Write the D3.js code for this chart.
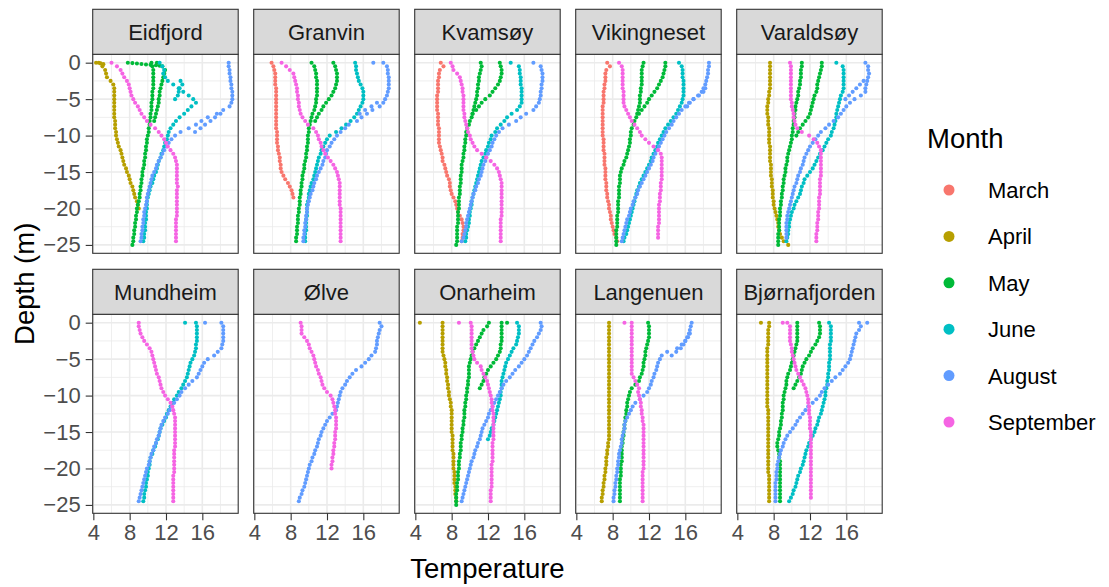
<!DOCTYPE html>
<html>
<head>
<meta charset="utf-8">
<script src="https://cdn.jsdelivr.net/npm/d3@7"></script>
<style>
  html, body { margin: 0; padding: 0; background: #ffffff; }
  svg { display: block; font-family: "Liberation Sans", Arial, sans-serif; }
</style>
</head>
<body>
<svg id="chart" width="1109" height="587"></svg>
<script>
// Temperature profiles per site. Each profile: [month, top depth (m), depth step (m), temperatures (°C)]
const sites = ["Eidfjord", "Granvin", "Kvamsøy", "Vikingneset", "Varaldsøy",
               "Mundheim", "Ølve", "Onarheim", "Langenuen", "Bjørnafjorden"];
const months = ["March", "April", "May", "June", "August", "September"];
const tempTicks = [4, 8, 12, 16];
const tempMinor = [6, 10, 14, 18];
const depthTicks = [0, -5, -10, -15, -20, -25];
const depthMinor = [-2.5, -7.5, -12.5, -17.5, -22.5];

const eidfjord = [
  ["April", 0, 0.5, [4.6,5.0,5.3,5.4,5.5,5.9,6.2,6.3,6.3,6.3,6.3,6.3,6.3,6.3,6.3,6.3,6.4,6.4,6.4,6.5,6.5,6.6,6.7,6.8,7.0,7.1,7.2,7.3,7.4,7.6,7.7,7.9,8.0,8.1,8.3,8.4,8.5,8.6,8.8,8.9,9.0]],
  ["April", 0, 0.1, [4.3,4.8,5.1]],
  ["May", 0, 0.06, [7.8,8.3,8.8,9.3,9.8,10.3,10.9,11.3]],
  ["May", 0, 0.5, [10.4,10.5,10.6,10.6,10.6,10.6,10.6,10.6,10.5,10.5,10.5,10.4,10.4,10.4,10.3,10.3,10.2,10.2,10.1,10.1,10.0,9.9,9.9,9.8,9.8,9.7,9.7,9.6,9.6,9.5,9.4,9.4,9.3,9.3,9.2,9.2,9.1,9.1,9.0,8.9,8.8,8.8,8.7,8.7,8.6,8.6,8.5,8.5,8.4,8.4,8.3]],
  ["May", 0, 0.5, [11.0,11.6,11.9,11.8,11.7,11.6,11.5,11.4,11.3,11.3,11.2,11.2,11.1,11.0,10.9,10.8,10.7]],
  ["June", 0, 0.5, [11.3,11.6,11.8,11.7,11.9,12.2,12.8,13.4,13.9,14.5,15.0,15.3,14.8,14.4,14.0,13.5,13.1,12.8,12.5,12.3,12.2,12.1,11.9,11.8,11.7,11.5,11.4,11.2,11.1,11.0,10.9,10.7,10.6,10.5,10.3,10.2,10.1,10.0,9.9,9.9,9.9,9.8,9.8,9.8,9.7,9.7,9.7,9.6,9.6,9.5]],
  ["June", 2.5, 0.5, [13.6,13.8,13.5,13.4,13.3,13.0]],
  ["August", 0, 0.5, [18.9,18.9,19.0,19.0,19.1,19.1,19.2,19.2,19.3,19.3,19.3,19.2,19.0,18.3,17.6,16.6,15.9,15.3,14.5,13.6,13.0,12.6,12.3,12.1,11.8,11.6,11.4,11.2,11.0,10.9,10.7,10.5,10.4,10.3,10.2,10.1,10.0,9.9,9.9,9.8,9.7,9.6,9.6,9.5,9.5,9.4,9.4,9.3,9.3,9.2]],
  ["August", 7, 0.5, [18.0,17.4,16.9,16.3,15.8,15.2]],
  ["September", 0, 0.5, [6.0,6.6,7.0,7.2,7.4,7.7,7.9,8.0,8.1,8.2,8.4,8.6,8.9,9.1,9.3,9.6,9.9,10.3,10.8,11.2,11.5,11.8,12.0,12.2,12.5,12.8,13.0,13.1,13.2,13.2,13.2,13.2,13.2,13.2,13.3,13.2,13.2,13.2,13.2,13.2,13.2,13.2,13.2,13.1,13.1,13.1,13.1,13.1,13.1,13.1]]
];

const granvin = [
  ["March", 0, 0.5, [5.9,6.1,6.2,6.3,6.3,6.3,6.3,6.4,6.4,6.4,6.4,6.4,6.4,6.4,6.4,6.4,6.4,6.4,6.4,6.5,6.5,6.5,6.5,6.6,6.6,6.7,6.8,6.8,6.9,6.9,7.0,7.2,7.4,7.7,7.9,8.1,8.2,8.3]],
  ["May", 0, 0.5, [10.3,10.6,10.7,10.8,10.8,10.9,10.9,10.9,10.9,10.9,10.8,10.8,10.7,10.6,10.4,10.3,10.2,10.1,10.0,10.0,9.9,9.9,9.9,9.8,9.8,9.7,9.7,9.6,9.5,9.5,9.4,9.3,9.3,9.2,9.2,9.1,9.1,9.0,9.0,9.0,8.9,8.9,8.8,8.8,8.8,8.7,8.7,8.7,8.6,8.6]],
  ["May", 0, 0.5, [12.7,12.9,13.0,13.1,13.1,13.1,13.0,12.9,12.7,12.5,12.2,11.9,11.6,11.4,11.1,10.9,10.7]],
  ["June", 0, 0.5, [15.1,15.2,15.2,15.3,15.4,15.5,15.7,15.9,16.0,16.0,16.0,15.9,15.7,15.5,15.3,15.0,14.6,14.1,13.6,13.0,12.3,12.0,11.8,11.6,11.4,11.3,11.1,11.0,10.9,10.8,10.7,10.6,10.5,10.3,10.2,10.1,10.0,10.0,9.9,9.8,9.8,9.8,9.8,9.7,9.7,9.7,9.7,9.6,9.6,9.6]],
  ["August", 0, 0.5, [18.2,18.6,18.7,18.7,18.8,18.8,18.8,18.8,18.7,18.6,18.4,18.2,17.8,17.0,16.4,15.8,15.3,14.4,14.0,13.5,13.1,12.8,12.5,12.3,12.0,11.9,11.8,11.6,11.5,11.3,11.1,10.9,10.8,10.6,10.5,10.4,10.2,10.1,10.0,9.9,9.8,9.8,9.7,9.7,9.6,9.6,9.5,9.5,9.4,9.4]],
  ["August", 0, 0.1, [17.1]],
  ["August", 5.5, 0.5, [17.5,16.9,16.2,15.6]],
  ["September", 0, 0.5, [7.0,7.5,7.9,8.3,8.4,8.5,8.6,8.7,8.7,8.8,8.8,8.9,8.9,9.0,9.1,9.3,9.6,9.9,10.5,10.8,11.0,11.1,11.3,11.4,11.6,11.8,12.1,12.4,12.7,12.9,13.1,13.2,13.3,13.4,13.4,13.4,13.4,13.4,13.4,13.4,13.5,13.5,13.5,13.5,13.5,13.5,13.5,13.5,13.5,13.5]]
];

const kvamsoy = [
  ["March", 0, 0.5, [6.8,7.1,6.7,6.6,6.6,6.5,6.5,6.5,6.5,6.4,6.4,6.4,6.4,6.4,6.5,6.5,6.5,6.5,6.6,6.6,6.6,6.6,6.6,6.7,6.8,6.9,7.0,7.0,7.2,7.3,7.4,7.5,7.7,7.8,7.8,7.9,8.0,8.2,8.4,8.5,8.6,8.7,8.9,9.1,9.2,9.3,9.3,9.2,9.2,9.1]],
  ["May", 0, 0.5, [11.2,11.3,11.2,11.1,11.0,11.0,10.9,10.9,10.8,10.8,10.7,10.6,10.5,10.4,10.3,10.2,10.0,9.9,9.7,9.6,9.6,9.5,9.5,9.4,9.4,9.3,9.3,9.2,9.1,9.1,9.1,9.0,9.0,9.0,8.9,8.9,8.9,8.8,8.8,8.8,8.8,8.7,8.7,8.7,8.7,8.6,8.6,8.6,8.6,8.6,8.5]],
  ["May", 0, 0.5, [13.3,13.4,13.5,13.5,13.4,13.3,13.1,12.8,12.5,12.2,11.7,11.3,11.0,10.7,10.3]],
  ["June", 0, 0.5, [14.5,15.4,15.5,15.5,15.6,15.6,15.6,15.7,15.7,15.7,15.7,15.7,15.5,15.2,14.6,14.1,13.8,13.4,13.0,12.8,12.4,12.3,12.1,12.0,11.8,11.7,11.5,11.3,11.2,11.1,11.0,10.9,10.8,10.7,10.6,10.5,10.4,10.3,10.2,10.2,10.1,10.0,10.0,9.9,9.9,9.8,9.7,9.6,9.6,9.5]],
  ["August", 0, 0.5, [17.0,17.8,17.9,18.0,18.0,18.0,17.9,17.9,17.8,17.8,17.7,17.6,17.3,17.0,16.2,15.6,15.1,14.3,13.6,13.2,12.9,12.7,12.5,12.4,12.2,12.0,11.8,11.7,11.5,11.4,11.3,11.2,11.0,10.9,10.7,10.6,10.4,10.3,10.2,10.1,10.0,9.9,9.8,9.7,9.6,9.6,9.5,9.4,9.3,9.1]],
  ["September", 0, 0.5, [7.9,8.1,8.2,8.6,8.9,9.0,9.1,9.2,9.2,9.3,9.3,9.3,9.3,9.3,9.4,9.4,9.5,9.6,9.7,9.8,10.0,10.1,10.3,10.5,10.8,11.3,11.8,12.3,12.7,13.0,13.2,13.3,13.4,13.5,13.5,13.5,13.5,13.5,13.5,13.5,13.5,13.5,13.5,13.4,13.4,13.4,13.4,13.4,13.4,13.4]]
];

const vikingneset = [
  ["March", 0, 0.5, [7.4,7.7,7.3,7.2,7.2,7.2,7.1,7.1,7.0,7.0,7.0,7.0,6.9,6.9,6.9,6.9,6.9,6.9,6.9,6.9,6.9,7.0,7.0,7.0,7.0,7.1,7.1,7.1,7.1,7.2,7.2,7.2,7.2,7.3,7.3,7.3,7.4,7.4,7.5,7.6,7.6,7.7,7.8,7.8,7.9,8.0,8.1,8.2,8.4,8.5]],
  ["May", 0, 0.5, [11.4,11.3,11.2,11.2,11.2,11.2,11.2,11.1,11.1,11.0,11.0,11.0,10.9,10.8,10.7,10.6,10.4,10.3,10.1,10.0,10.0,9.9,9.9,9.8,9.7,9.6,9.5,9.3,9.2,9.0,8.9,8.8,8.8,8.8,8.7,8.7,8.7,8.7,8.6,8.6,8.6,8.6,8.5,8.5,8.5,8.5,8.4,8.4,8.4,8.4,8.4]],
  ["May", 0, 0.5, [13.8,13.8,13.7,13.6,13.5,13.3,13.1,12.9,12.6,12.3,12.0,11.8,11.5,11.2,10.9]],
  ["June", 0, 0.5, [15.3,15.6,15.7,15.7,15.7,15.8,15.8,15.8,15.8,15.8,15.7,15.6,15.4,15.2,15.0,14.7,14.4,14.1,13.8,13.6,13.4,13.2,13.0,12.9,12.7,12.5,12.3,12.2,12.0,11.8,11.6,11.4,11.2,11.0,10.9,10.7,10.6,10.5,10.4,10.3,10.2,10.1,10.0,9.9,9.8,9.7,9.6,9.5,9.3,9.2]],
  ["August", 0, 0.5, [18.6,18.6,18.5,18.5,18.4,18.3,18.2,18.0,17.8,17.5,16.9,16.4,16.0,15.6,15.3,15.0,14.7,14.5,14.2,13.9,13.7,13.5,13.3,13.1,12.9,12.7,12.5,12.4,12.2,12.0,11.8,11.6,11.4,11.2,11.0,10.8,10.7,10.5,10.3,10.2,10.0,9.9,9.8,9.6,9.5,9.4,9.3,9.2,9.1,9.0]],
  ["August", 3.5, 0.5, [18.2,18.0,17.4,16.9,16.5,16.2]],
  ["September", 0, 0.5, [8.7,9.0,9.1,9.1,9.1,9.1,9.1,9.1,9.2,9.2,9.2,9.2,9.3,9.5,9.7,9.9,10.1,10.4,10.7,11.0,11.2,11.6,12.0,12.5,13.0,13.3,13.4,13.4,13.4,13.4,13.4,13.4,13.4,13.3,13.3,13.3,13.2,13.2,13.2,13.1,13.1,13.1,13.1,13.1,13.1,13.0,13.0,13.0,13.0]]
];

const varaldsoy = [
  ["April", 0, 0.5, [7.6,7.6,7.6,7.6,7.6,7.6,7.6,7.6,7.5,7.5,7.4,7.4,7.3,7.3,7.3,7.4,7.4,7.4,7.5,7.5,7.5,7.5,7.5,7.6,7.6,7.6,7.6,7.6,7.7,7.7,7.7,7.7,7.8,7.8,7.8,7.9,7.9,7.9,8.0,8.0,8.1,8.2,8.3,8.4,8.5,8.5,8.6,8.7,8.9,9.1,9.6]],
  ["May", 0, 0.5, [11.1,11.1,11.0,11.0,11.0,10.9,10.9,10.8,10.7,10.7,10.6,10.5,10.4,10.4,10.3,10.3,10.2,10.2,10.1,10.1,10.0,10.0,9.9,9.8,9.7,9.6,9.5,9.5,9.4,9.3,9.3,9.2,9.1,9.1,9.0,9.0,8.9,8.9,8.8,8.8,8.7,8.7,8.7,8.6,8.6,8.6,8.6,8.5,8.5,8.5,8.5]],
  ["May", 0, 0.5, [13.3,13.3,13.2,13.1,13.0,12.9,12.8,12.8,12.7,12.5,12.4,12.3,12.2,12.1,12.0,11.8,11.5,11.2,10.9,10.7,10.5]],
  ["June", 0, 0.5, [14.9,15.6,15.7,15.7,15.7,15.7,15.7,15.7,15.6,15.4,15.3,15.2,15.1,15.0,14.9,14.9,14.8,14.7,14.6,14.4,14.3,14.0,13.8,13.6,13.4,13.1,12.9,12.7,12.5,12.3,12.0,11.7,11.4,11.3,11.1,11.0,10.9,10.7,10.5,10.3,10.2,10.0,9.9,9.8,9.7,9.7,9.6,9.6,9.5,9.4]],
  ["August", 0, 0.5, [18.1,18.4,18.4,18.5,18.4,18.3,18.2,18.1,18.1,17.6,16.9,16.4,16.0,15.7,15.4,15.1,14.6,14.1,13.7,13.2,12.9,12.6,12.3,12.0,11.8,11.6,11.4,11.3,11.2,11.0,10.9,10.7,10.6,10.5,10.3,10.2,10.1,10.0,9.9,9.8,9.7,9.6,9.5,9.5,9.4,9.4,9.4,9.4,9.4]],
  ["August", 2.5, 0.5, [17.9,17.5,17.1,16.7,16.3,15.9]],
  ["September", 0, 0.5, [9.8,9.9,9.9,9.9,9.9,9.9,9.9,9.9,9.9,9.9,9.9,10.0,10.0,10.1,10.2,10.2,10.3,10.4,10.6,11.1,11.9,12.4,12.8,13.0,13.2,13.2,13.2,13.2,13.2,13.2,13.2,13.2,13.1,13.1,13.1,13.1,13.1,13.0,13.0,13.0,13.0,12.9,12.9,12.9,12.8,12.8,12.8,12.7,12.7,12.7]]
];

const mundheim = [
  ["June", 0, 0.5, [15.3,15.4,15.4,15.4,15.4,15.4,15.3,15.3,15.2,15.1,14.9,14.7,14.6,14.5,14.4,14.3,14.1,13.9,13.7,13.4,13.2,12.9,12.7,12.5,12.3,12.1,12.0,11.8,11.6,11.4,11.3,11.2,11.1,10.9,10.8,10.6,10.5,10.3,10.2,10.2,10.1,10.0,10.0,9.9,9.8,9.8,9.7,9.6,9.6,9.5]],
  ["June", 0, 0.1, [14.1]],
  ["August", 0, 0.5, [18.1,18.3,18.3,18.3,18.3,18.3,18.2,18.1,17.7,17.3,16.6,16.2,16.0,15.8,15.6,15.4,14.9,14.5,14.1,13.7,13.5,13.2,12.9,12.6,12.4,12.2,11.9,11.7,11.5,11.4,11.3,11.2,11.0,10.9,10.7,10.6,10.4,10.3,10.2,10.1,9.9,9.8,9.7,9.6,9.5,9.4,9.3,9.2,9.1,9.0]],
  ["August", 0, 0.1, [16.3]],
  ["September", 0, 0.5, [9.0,9.0,9.1,9.2,9.4,9.6,9.9,10.2,10.4,10.5,10.6,10.7,10.8,10.9,11.0,11.2,11.3,11.4,11.5,11.7,11.9,12.2,12.5,12.7,12.8,12.9,13.0,13.0,13.0,13.0,13.0,13.0,13.0,13.0,13.0,12.9,12.9,12.9,12.9,12.9,12.9,12.9,12.8,12.8,12.8,12.8,12.8,12.8,12.8,12.8]]
];

const olve = [
  ["August", 0, 0.5, [17.8,18.0,17.8,17.7,17.6,17.5,17.5,17.4,17.3,16.9,16.6,16.2,15.8,15.2,14.8,14.5,14.2,14.0,13.7,13.5,13.4,13.3,13.2,13.1,13.0,12.6,12.3,12.0,11.8,11.6,11.4,11.3,11.1,11.0,10.9,10.7,10.6,10.4,10.3,10.1,10.0,9.9,9.8,9.7,9.6,9.5,9.3,9.2,9.0,8.9]],
  ["September", 0, 0.5, [9.1,9.2,9.2,9.2,9.5,9.8,10.0,10.1,10.3,10.5,10.6,10.7,10.8,11.0,11.1,11.3,11.4,11.5,11.7,12.0,12.4,12.6,12.7,12.8,12.9,12.9,13.0,13.0,13.0,13.0,12.9,12.9,12.9,12.8,12.8,12.7,12.7,12.6,12.6,12.5,12.5]]
];

const onarheim = [
  ["April", 0, 0.5, [7.0,7.0,7.0,7.0,7.0,7.0,7.0,7.0,7.0,7.1,7.2,7.3,7.3,7.4,7.4,7.5,7.5,7.6,7.6,7.7,7.7,7.8,7.9,7.9,8.0,8.0,8.0,8.0,8.0,8.0,8.0,8.1,8.1,8.1,8.1,8.1,8.2,8.2,8.2,8.2,8.2,8.3,8.3,8.3,8.3,8.4,8.4,8.4,8.5,8.5]],
  ["April", 0, 0.1, [4.5]],
  ["May", 0, 0.5, [12.1,11.9,11.5,11.3,11.1,10.9,10.7,10.5,10.3,10.2,10.1,10.0,9.9,9.9,9.9,9.9,9.8,9.8,9.7,9.7,9.6,9.6,9.5,9.5,9.4,9.4,9.4,9.3,9.3,9.2,9.2,9.1,9.1,9.0,9.0,9.0,8.9,8.9,8.8,8.8,8.8,8.7,8.7,8.7,8.6,8.6,8.6,8.5,8.5,8.5,8.5]],
  ["May", 0, 0.5, [13.5,13.5,13.5,13.5,13.5,13.5,13.4,13.4,13.3,13.1,12.9,12.6,12.3,12.0,11.8,11.6,11.5,11.3,11.1]],
  ["May", 0, 0.1, [14.1]],
  ["June", 0, 0.5, [15.2,15.4,15.4,15.4,15.3,15.2,15.1,14.8,14.6,14.4,14.2,14.0,13.9,13.8,13.7,13.6,13.5,13.5,13.5,13.4,13.4,13.3,13.2,13.1,13.0,12.9,12.8,12.7,12.6,12.4,12.3,12.2,12.0]],
  ["August", 0, 0.5, [17.8,17.9,17.8,17.6,17.4,17.1,16.9,16.7,16.5,16.3,16.0,15.7,15.4,15.0,14.7,14.4,14.0,13.7,13.5,13.3,13.1,12.9,12.7,12.5,12.3,12.1,12.0,11.8,11.6,11.4,11.3,11.2,11.1,10.9,10.8,10.6,10.5,10.4,10.2,10.1,10.0,9.9,9.8,9.7,9.6,9.5,9.4,9.3,9.2,9.1]],
  ["September", 0, 0.5, [10.1,10.2,10.2,10.2,10.2,10.2,10.2,10.2,10.3,10.4,10.5,10.8,11.2,11.3,11.5,11.7,11.9,12.0,12.1,12.2,12.3,12.4,12.4,12.5,12.5,12.6,12.6,12.6,12.6,12.6,12.6,12.6,12.6,12.5,12.5,12.5,12.5,12.5,12.5,12.4,12.4,12.4,12.4,12.4,12.4,12.4,12.3,12.3,12.3,12.3]],
  ["September", 0, 0.1, [8.8]]
];

const langenuen = [
  ["April", 0, 0.5, [7.6,7.6,7.6,7.6,7.6,7.6,7.6,7.6,7.6,7.6,7.6,7.6,7.6,7.6,7.6,7.6,7.6,7.6,7.6,7.6,7.6,7.6,7.6,7.6,7.6,7.6,7.6,7.6,7.6,7.6,7.6,7.6,7.6,7.5,7.5,7.4,7.4,7.3,7.3,7.3,7.2,7.2,7.1,7.1,7.0,7.0,6.9,6.9,6.8,6.8]],
  ["May", 0, 0.5, [11.9,12.0,12.0,12.0,12.0,11.9,11.8,11.7,11.6,11.6,11.5,11.4,11.4,11.3,11.2,11.0,10.9,10.5,10.1,9.9,9.8,9.7,9.6,9.6,9.5,9.5,9.4,9.4,9.3,9.3,9.2,9.2,9.1,9.1,9.0,9.0,9.0,9.0,9.0,8.9,8.9,8.9,8.9,8.8,8.8,8.8,8.8,8.8,8.8,8.8]],
  ["August", 0, 0.5, [16.7,16.6,16.5,16.4,16.3,16.0,15.6,15.1,14.0,13.4,13.2,13.0,12.9,12.8,12.6,12.5,12.3,12.2,12.0,11.8,11.4,11.0,10.5,10.2,10.0,9.8,9.6,9.4,9.3,9.3,9.2,9.1,9.0,9.0,8.9,8.8,8.7,8.7,8.6,8.6,8.5,8.5,8.4,8.4,8.3,8.3,8.2,8.2,8.1,8.1]],
  ["August", 1.5, 0.5, [16.5,16.2,16.0,15.8,15.5,15.0,14.5]],
  ["September", 0, 0.5, [10.1,10.1,10.1,10.1,10.1,10.1,10.1,10.1,10.1,10.1,10.1,10.1,10.1,10.1,10.1,10.3,10.5,10.7,10.9,10.8,10.9,11.0,11.1,11.1,11.2,11.2,11.3,11.3,11.4,11.4,11.4,11.4,11.4,11.4,11.4,11.4,11.4,11.4,11.4,11.4,11.4,11.3,11.3,11.3,11.3,11.3,11.3,11.3,11.3,11.3]],
  ["September", 0, 0.1, [9.3]]
];

const bjornafjorden = [
  ["April", 0, 0.5, [7.5,7.5,7.4,7.4,7.4,7.4,7.4,7.3,7.3,7.3,7.3,7.3,7.3,7.3,7.3,7.3,7.3,7.3,7.3,7.3,7.3,7.3,7.3,7.3,7.4,7.4,7.4,7.4,7.4,7.4,7.4,7.4,7.4,7.4,7.4,7.4,7.4,7.4,7.4,7.4,7.4,7.4,7.5,7.5,7.5,7.5,7.5,7.5,7.5,7.5]],
  ["April", 0, 0.1, [6.6]],
  ["May", 0, 0.5, [10.6,10.6,10.6,10.6,10.6,10.6,10.5,10.4,10.3,10.2,10.1,10.0,9.9,9.8,9.6,9.5,9.4,9.4,9.3,9.2,9.1,9.1,9.0,9.0,9.0,8.9,8.9,8.8,8.8,8.7,8.6,8.6,8.5,8.4,8.4,8.5,8.6,8.6,8.7,8.7,8.7,8.7,8.7,8.7,8.7,8.7,8.7,8.7,8.7,8.7]],
  ["May", 0, 0.5, [13.0,13.1,13.1,13.1,13.0,12.8,12.6,12.3,12.1,11.9,11.6,11.4,11.2,11.1,11.0,10.8,10.6,10.4,10.2]],
  ["June", 0, 0.5, [14.1,14.3,14.3,14.3,14.3,14.3,14.2,14.2,14.2,14.2,14.2,14.1,14.1,14.1,14.0,14.0,13.9,13.9,13.8,13.7,13.7,13.6,13.5,13.4,13.3,13.2,13.0,12.9,12.8,12.6,12.5,12.3,12.1,11.9,11.8,11.6,11.5,11.4,11.3,11.2,11.0,10.9,10.7,10.6,10.5,10.4,10.2,10.1,9.9,9.7]],
  ["August", 0, 0.5, [18.3,17.6,17.4,17.1,17.0,16.9,16.8,16.7,16.6,16.5,16.4,16.2,15.9,15.6,15.3,14.8,14.4,14.0,13.6,13.3,13.1,12.7,12.3,11.8,11.5,11.2,10.9,10.6,10.4,10.1,9.8,9.5,9.3,9.1,9.0,8.8,8.7,8.6,8.5,8.4,8.4,8.3,8.3,8.3,8.2,8.2,8.2,8.2,8.2,8.2]],
  ["August", 0, 0.1, [17.4]],
  ["September", 0, 0.5, [9.5,9.8,9.8,9.8,9.8,9.8,9.9,10.0,10.0,10.1,10.2,10.3,10.4,10.5,10.7,10.9,11.1,11.3,11.5,11.6,11.7,11.8,11.8,11.9,11.9,11.9,12.0,12.0,12.0,12.0,12.1,12.1,12.1,12.1,12.1,12.1,12.1,12.1,12.1,12.1,12.1,12.1,12.1,12.1,12.1,12.1,12.1,12.1,12.1]],
  ["September", 0, 0.1, [9.0]]
];

const siteProfiles = [eidfjord, granvin, kvamsoy, vikingneset, varaldsoy,
                      mundheim, olve, onarheim, langenuen, bjornafjorden];
const monthColors = ["#F8766D", "#B79F00", "#00BA38", "#00BFC4", "#619CFF", "#F564E3"];

// ---- layout ----
const svg = d3.select("#chart");
const panelW = 145.5, panelH = 199, stripH = 45;
const panelLeft = 92.7, panelPitch = 161;
const rowTops = [54.3, 314.3];

const x = d3.scaleLinear().domain([3.93, 19.95]).range([0, panelW]);
const y = d3.scaleLinear().domain([1.15, -26.15]).range([0, panelH]);
const colour = d3.scaleOrdinal().domain(months).range(monthColors);

// long-format table: one row per observation
const table = [];
sites.forEach((site, i) => {
  siteProfiles[i].forEach(([month, top, step, temps]) => {
    temps.forEach((t, k) => table.push({ site, month, depth: -(top + k * step), temp: t }));
  });
});
// draw in month order so later months sit on top
table.sort((a, b) => months.indexOf(a.month) - months.indexOf(b.month));

sites.forEach((site, i) => {
  const col = i % 5, row = Math.floor(i / 5);
  const g = svg.append("g")
    .attr("transform", `translate(${panelLeft + col * panelPitch},${rowTops[row]})`);

  g.append("rect").attr("width", panelW).attr("height", panelH).attr("fill", "#ffffff");

  // minor grid
  g.selectAll(".vminor").data(tempMinor).join("line")
    .attr("x1", d => x(d)).attr("x2", d => x(d)).attr("y1", 0).attr("y2", panelH)
    .attr("stroke", "#EBEBEB").attr("stroke-width", 0.8);
  g.selectAll(".hminor").data(depthMinor).join("line")
    .attr("y1", d => y(d)).attr("y2", d => y(d)).attr("x1", 0).attr("x2", panelW)
    .attr("stroke", "#EBEBEB").attr("stroke-width", 0.8);
  // major grid
  g.selectAll(".vmajor").data(tempTicks).join("line")
    .attr("x1", d => x(d)).attr("x2", d => x(d)).attr("y1", 0).attr("y2", panelH)
    .attr("stroke", "#EBEBEB").attr("stroke-width", 1.6);
  g.selectAll(".hmajor").data(depthTicks).join("line")
    .attr("y1", d => y(d)).attr("y2", d => y(d)).attr("x1", 0).attr("x2", panelW)
    .attr("stroke", "#EBEBEB").attr("stroke-width", 1.6);

  // observations
  g.selectAll("circle.obs").data(table.filter(d => d.site === site)).join("circle")
    .attr("class", "obs")
    .attr("cx", d => x(d.temp)).attr("cy", d => y(d.depth))
    .attr("r", 2.05)
    .attr("fill", d => colour(d.month));

  // panel border
  g.append("rect").attr("width", panelW).attr("height", panelH)
    .attr("fill", "none").attr("stroke", "#333333").attr("stroke-width", 1.1);

  // strip
  g.append("rect").attr("y", -stripH).attr("width", panelW).attr("height", stripH)
    .attr("fill", "#D9D9D9").attr("stroke", "#333333").attr("stroke-width", 1.1);
  g.append("text").attr("x", panelW / 2).attr("y", -stripH / 2 + 7.8)
    .attr("text-anchor", "middle").attr("font-size", 22).attr("fill", "#1A1A1A")
    .text(site);

  // axes
  if (col === 0) {
    const ax = g.append("g").call(d3.axisLeft(y).tickValues(depthTicks).tickSize(7).tickPadding(5));
    styleAxis(ax);
  }
  if (row === 1) {
    const ax = g.append("g").attr("transform", `translate(0,${panelH})`)
      .call(d3.axisBottom(x).tickValues(tempTicks).tickSize(7).tickPadding(4));
    styleAxis(ax);
  }
});

function styleAxis(ax) {
  ax.attr("font-family", null).attr("font-size", null);
  ax.select(".domain").remove();
  ax.selectAll(".tick line").attr("stroke", "#333333").attr("stroke-width", 1.1);
  ax.selectAll(".tick text").attr("fill", "#4D4D4D").attr("font-size", 22);
}

// axis titles
svg.append("text")
  .attr("x", panelLeft + (4 * panelPitch + panelW) / 2).attr("y", 578)
  .attr("text-anchor", "middle").attr("font-size", 27.5).attr("fill", "#000")
  .text("Temperature");
svg.append("text")
  .attr("transform", `translate(34,${(rowTops[0] + rowTops[1] + panelH) / 2}) rotate(-90)`)
  .attr("text-anchor", "middle").attr("font-size", 27.5).attr("fill", "#000")
  .text("Depth (m)");

// legend
const legend = svg.append("g").attr("transform", "translate(927,0)");
legend.append("text").attr("x", 0).attr("y", 148)
  .attr("font-size", 27.5).attr("fill", "#000").text("Month");
const keys = legend.selectAll("g.key").data(months).join("g")
  .attr("class", "key")
  .attr("transform", (d, i) => `translate(0,${190 + i * 46.4})`);
keys.append("circle").attr("cx", 22).attr("cy", 0).attr("r", 5.5).attr("fill", d => colour(d));
keys.append("text").attr("x", 61).attr("y", 8).attr("font-size", 22).attr("fill", "#000").text(d => d);
</script>
</body>
</html>
